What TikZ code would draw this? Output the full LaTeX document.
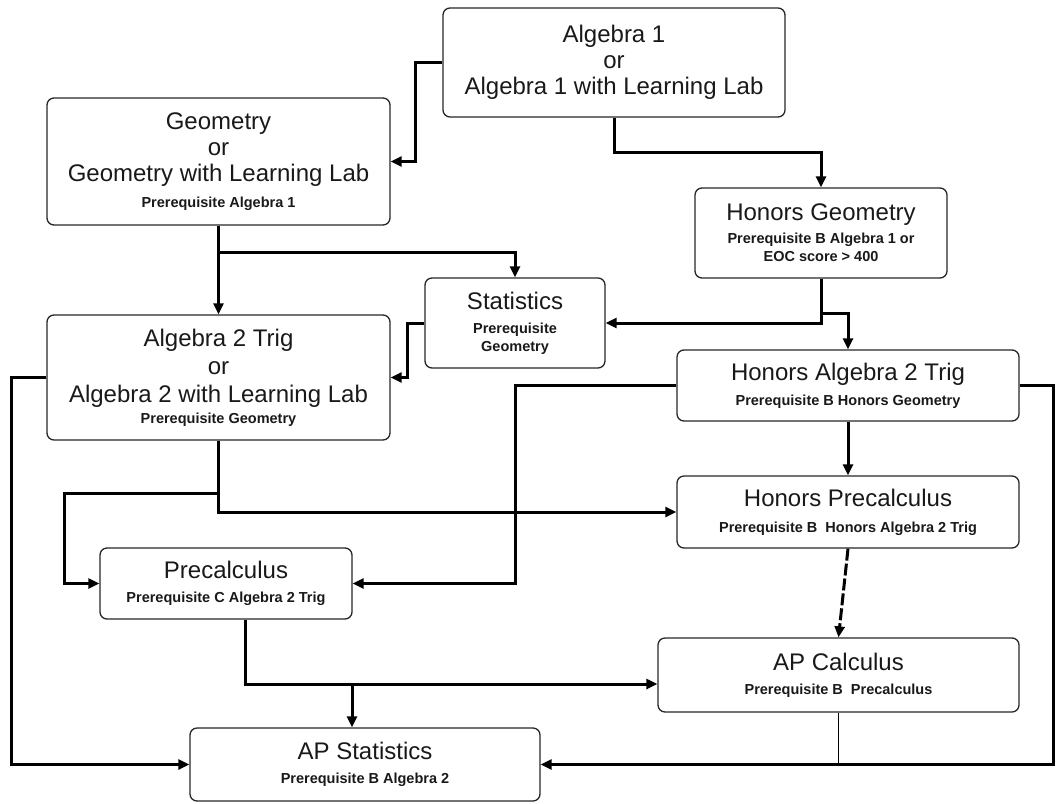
\documentclass[tikz,border=0pt]{standalone}
\usepackage{fontspec}
\setmainfont{Liberation Sans}
\usetikzlibrary{arrows.meta,calc}
\newcommand\prq[1]{{\fontsize{14.5}{16}\selectfont\bfseries #1}}
\begin{document}
\begin{tikzpicture}[x=1pt,y=-1pt,
  box/.style={draw=black!85, line width=1.3pt, rounded corners=7pt, align=center, inner sep=0pt, text=black!90, font=\fontsize{24}{26}\selectfont},
  conn/.style={line width=3pt, -{Triangle[length=11pt,width=10pt]}},
  thinline/.style={line width=1pt}]
\useasboundingbox (0,0) rectangle (1056,803);

\node[box, minimum width=342pt, minimum height=109pt] (alg1) at (614,62.5) {Algebra 1\\or\\Algebra 1 with Learning Lab};
\node[box, minimum width=343pt, minimum height=127pt] (geom) at (218.5,161.5) {Geometry\\or\\Geometry with Learning Lab\\\prq{Prerequisite Algebra 1}};
\node[box, minimum width=252pt, minimum height=90pt] (hg) at (821,233) {Honors Geometry\\[-3pt]\prq{Prerequisite B Algebra 1 or}\\[-8pt]\prq{EOC score > 400}};
\node[box, minimum width=180pt, minimum height=90pt] (stats) at (515,323) {Statistics\\[-2pt]\prq{Prerequisite}\\[-8pt]\prq{Geometry}};
\node[box, minimum width=343pt, minimum height=125pt] (alg2) at (218.5,377.5) {Algebra 2 Trig\\[2pt]or\\[2pt]Algebra 2 with Learning Lab\\[-5pt]\prq{Prerequisite Geometry}};
\node[box, minimum width=342pt, minimum height=71pt] (ha2) at (848,385.5) {Honors Algebra 2 Trig\\[-1pt]\prq{Prerequisite B Honors Geometry}};
\node[box, minimum width=342pt, minimum height=72pt] (hp) at (848,512) {Honors Precalculus\\\prq{Prerequisite B\ \ Honors Algebra 2 Trig}};
\node[box, minimum width=252pt, minimum height=71pt] (pre) at (226,583.5) {Precalculus\\[-2pt]\prq{Prerequisite C Algebra 2 Trig}};
\node[box, minimum width=361pt, minimum height=74pt] (apc) at (838.5,675) {AP Calculus\\[-2pt]\prq{Prerequisite B\ \ Precalculus}};
\node[box, minimum width=350pt, minimum height=73pt] (aps) at (365,764.5) {AP Statistics\\[-2pt]\prq{Prerequisite B Algebra 2}};

\coordinate (cj) at ([yshift=-9pt]apc.west);

\draw[conn] (alg1.west) -- ++(-27,0) |- (geom.east);
\draw[conn] (alg1.south) -- ++(0,35) -| (hg.north);
\draw[conn] (geom.south) -- (alg2.north);
\draw[conn] (geom.south) ++(0,27) -| (stats.north);
\draw[conn] (stats.west) -- ++(-17,0) |- (alg2.east);
\draw[conn] (hg.south) |- (stats.east);
\draw[conn] (hg.south) ++(0,35) -| (ha2.north);
\draw[conn] (ha2.south) -- (hp.north);
\draw[conn] (ha2.west) -- ++(-161,0) |- (pre.east);
\draw[conn] (ha2.east) -- ++(34,0) |- (aps.east);
\draw[thinline] (apc.south) -- (apc.south |- aps.east);
\draw[conn] (alg2.west) -- ++(-35,0) |- (aps.west);
\draw[conn] (alg2.south) |- (hp.west);
\draw[conn] (alg2.south) ++(0,53) -| ([xshift=-35pt]pre.west) -- (pre.west);
\draw[conn] ([xshift=19pt]pre.south) |- (cj);
\draw[conn] ([xshift=-13pt]aps.north |- cj) -- ([xshift=-13pt]aps.north);
\draw[conn, dash pattern=on 12pt off 3pt] (hp.south) -- (apc.north);
\end{tikzpicture}
\end{document}
